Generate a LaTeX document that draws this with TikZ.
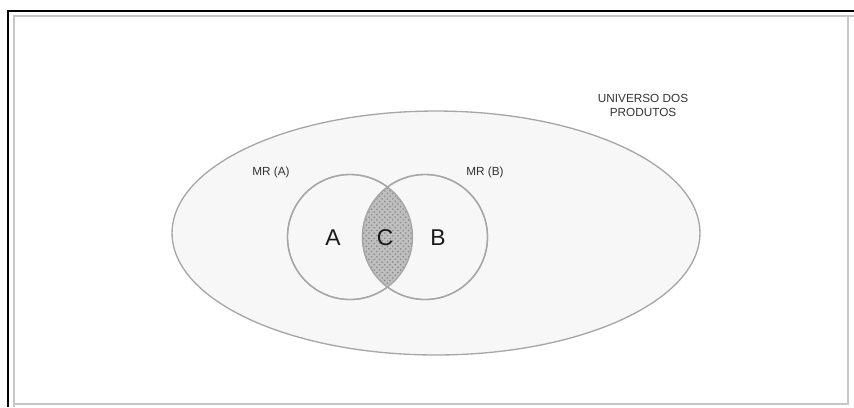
\documentclass[tikz,border=0pt]{standalone}
\usepackage{fontspec}
\setmainfont{Liberation Sans}
\usetikzlibrary{patterns,shapes.geometric}
\begin{document}
\begin{tikzpicture}[x=0.02cm,y=-0.02cm,
  setline/.style={draw=gray!70!white,line width=0.75pt},
  smalllabel/.style={font=\fontsize{6.7}{8}\selectfont,text=black!80,align=center},
  biglabel/.style={font=\fontsize{13}{14}\selectfont,text=black!90}]
\useasboundingbox (0,0) rectangle (854,407);
% frame
\draw[gray!45,line width=1.3pt] (14,407) -- (14,16) -- (854,16);
\draw[gray!45,line width=1.3pt] (14,404) -- (848,404) -- (848,16);
\draw[black,line width=1pt] (8,407) -- (8,11) -- (854,11);
% universe of products
\node[setline,fill=gray!6,ellipse,minimum width=10.56cm,minimum height=4.88cm,inner sep=0pt] (U) at (436,233) {};
% the two market sets
\node[setline,fill=gray!6,circle,minimum size=2.5cm,inner sep=0pt] (CA) at (350,237) {};
\node[setline,fill=gray!6,circle,minimum size=2.5cm,inner sep=0pt] (CB) at (425,237) {};
% intersection
\begin{scope}
  \clip (CA.center) circle [radius=1.25cm];
  \fill[gray!50] (CB.center) circle [radius=1.25cm];
  \fill[pattern=crosshatch dots,pattern color=gray!95] (CB.center) circle [radius=1.25cm];
\end{scope}
\draw[setline] (CA.center) circle [radius=1.25cm];
\draw[setline] (CB.center) circle [radius=1.25cm];
% labels
\node[biglabel] (la) at (333,238) {A};
\node[biglabel] (lc) at (385,238) {C};
\node[biglabel] (lb) at (438,238) {B};
\node[smalllabel] (mra) at (271,172) {MR (A)};
\node[smalllabel] (mrb) at (485,172) {MR (B)};
\node[smalllabel] (univ) at (643,105) {UNIVERSO DOS\\PRODUTOS};
\end{tikzpicture}
\end{document}
